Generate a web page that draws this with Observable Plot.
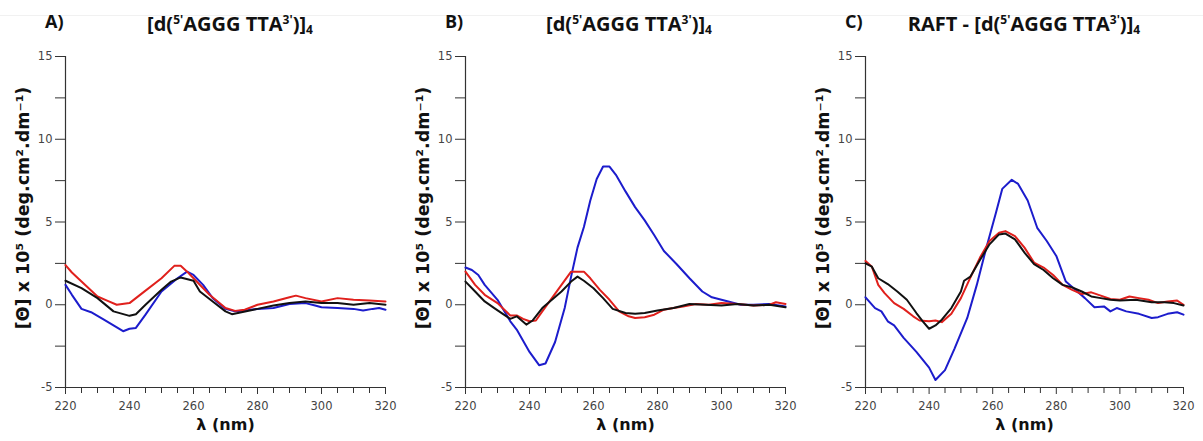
<!DOCTYPE html>
<html>
<head>
<meta charset="utf-8">
<script src="https://cdn.jsdelivr.net/npm/d3@7"></script>
<script src="https://cdn.jsdelivr.net/npm/@observablehq/plot@0.6"></script>
<style>
  html, body { margin: 0; padding: 0; background: #fff; }
  #wrap { position: relative; width: 1203px; height: 441px; overflow: hidden; }
  .panel { position: absolute; top: 0; }
  .letter { position: absolute; top: 9px; font: bold 18px "Open Sans", "Liberation Sans", sans-serif; color: #111; }
  .title { position: absolute; top: 13px; transform: translateX(-50%); white-space: nowrap;
           font: bold 20px "Open Sans", "Liberation Sans", sans-serif; color: #111; line-height: 22px; }
  .title sup { font-size: 12px; vertical-align: 7px; line-height: 0; }
  .title sub { font-size: 12px; vertical-align: -3px; line-height: 0; }
  .topline { position: absolute; left: 0; top: 15px; width: 1203px; height: 1px; background: #f1f1f1; }
</style>
</head>
<body>
<div id="wrap">
  <div class="topline"></div>
</div>
<script>
// ---- data (λ in nm, [Θ] x 10^5) ----
const panelLetters = ["A)", "B)", "C)"];
const panelTitlePrefix = ["", "", "RAFT - "];
const yTicks = [-5, 0, 5, 10, 15];
const yMinorTicks = [-2.5, 2.5, 7.5, 12.5];
const xTicks = [220, 240, 260, 280, 300, 320];
const xMinorTicks = [225, 230, 235, 245, 250, 255, 265, 270, 275, 285, 290, 295, 305, 310, 315];
const yLabel = "[Θ] x 10⁵ (deg.cm².dm⁻¹)";
const xLabel = "λ (nm)";

const A_blue = [[220,1.2],[222,0.6],[225,-0.25],[228,-0.45],[232,-0.9],[235,-1.25],[238,-1.6],[240,-1.45],[242,-1.4],[245,-0.6],[250,0.8],[255,1.6],[258,2.0],[260,1.8],[263,1.2],[266,0.4],[270,-0.25],[273,-0.4],[276,-0.35],[280,-0.25],[285,-0.2],[290,0.05],[295,0.1],[298,-0.05],[300,-0.15],[305,-0.2],[310,-0.25],[313,-0.35],[316,-0.25],[318,-0.2],[320,-0.3]];
const A_red = [[220,2.4],[222,1.95],[225,1.4],[230,0.5],[233,0.25],[236,0.0],[240,0.1],[244,0.7],[250,1.6],[254,2.35],[256,2.35],[258,2.0],[260,1.6],[265,0.6],[270,-0.2],[273,-0.37],[276,-0.3],[280,0.0],[285,0.2],[290,0.45],[292,0.55],[295,0.4],[300,0.2],[305,0.4],[310,0.3],[315,0.25],[320,0.2]];
const A_black = [[220,1.45],[225,1.0],[230,0.4],[235,-0.4],[240,-0.67],[242,-0.57],[245,0.0],[250,0.9],[253,1.4],[256,1.65],[260,1.45],[262,0.8],[266,0.2],[270,-0.4],[272,-0.57],[275,-0.45],[280,-0.25],[285,-0.05],[290,0.1],[295,0.2],[300,0.1],[305,0.1],[310,0.0],[315,0.1],[320,0.0]];

const B_blue = [[220,2.25],[222,2.1],[224,1.8],[226,1.2],[230,0.3],[234,-1.0],[236,-1.5],[240,-2.85],[243,-3.65],[245,-3.55],[248,-2.25],[251,-0.2],[253,1.7],[255,3.45],[257,4.7],[259,6.3],[261,7.6],[263,8.35],[265,8.35],[267,7.85],[270,6.85],[273,5.9],[276,5.1],[279,4.2],[282,3.25],[286,2.45],[290,1.6],[294,0.8],[297,0.45],[300,0.3],[303,0.15],[306,0.0],[310,0.0],[315,0.05],[320,-0.1]];
const B_red = [[220,2.0],[223,1.2],[226,0.6],[230,0.1],[234,-0.65],[236,-0.65],[238,-0.85],[240,-1.0],[242,-0.95],[244,-0.4],[247,0.4],[250,1.2],[253,2.0],[255,2.0],[257,2.0],[259,1.6],[262,0.9],[265,0.3],[268,-0.4],[271,-0.7],[273,-0.8],[276,-0.75],[279,-0.6],[282,-0.3],[285,-0.2],[288,-0.1],[292,0.05],[296,0.0],[300,0.1],[305,0.05],[310,-0.05],[315,0.0],[317,0.15],[320,0.05]];
const B_black = [[220,1.4],[223,0.8],[226,0.2],[229,-0.2],[232,-0.6],[234,-0.85],[236,-0.7],[239,-1.2],[241,-0.95],[244,-0.2],[247,0.3],[250,0.8],[253,1.4],[255,1.7],[257,1.45],[260,1.0],[263,0.4],[266,-0.25],[270,-0.5],[273,-0.55],[276,-0.5],[280,-0.35],[285,-0.2],[290,0.05],[295,0.0],[300,-0.05],[305,0.05],[310,-0.05],[315,0.0],[320,-0.15]];

const C_blue = [[220,0.45],[223,-0.2],[225,-0.4],[227,-1.0],[229,-1.25],[232,-2.0],[236,-2.85],[240,-3.8],[242,-4.55],[245,-3.95],[248,-2.65],[252,-0.8],[255,1.2],[258,3.45],[261,5.55],[263,7.0],[266,7.55],[268,7.3],[271,6.3],[274,4.65],[277,3.85],[280,2.95],[283,1.4],[286,0.9],[289,0.4],[292,-0.15],[295,-0.1],[297,-0.4],[299,-0.2],[302,-0.4],[306,-0.55],[310,-0.8],[312,-0.75],[315,-0.55],[318,-0.45],[320,-0.6]];
const C_red = [[220,2.65],[222,2.3],[224,1.2],[226,0.7],[229,0.1],[232,-0.25],[235,-0.7],[237,-0.95],[240,-1.0],[242,-0.95],[244,-1.05],[247,-0.55],[250,0.4],[253,1.65],[256,2.85],[259,3.85],[262,4.35],[264,4.45],[267,4.15],[270,3.45],[273,2.55],[276,2.25],[279,1.8],[282,1.2],[285,0.9],[288,0.65],[291,0.75],[294,0.55],[297,0.35],[300,0.3],[303,0.5],[306,0.4],[309,0.3],[312,0.1],[315,0.2],[318,0.25],[320,0.0]];
const C_black = [[220,2.5],[222,2.3],[224,1.6],[227,1.25],[230,0.8],[233,0.3],[236,-0.5],[238,-1.0],[240,-1.45],[242,-1.25],[244,-0.9],[247,-0.2],[250,0.8],[251,1.45],[253,1.7],[256,2.7],[259,3.65],[262,4.25],[264,4.3],[267,3.95],[270,3.15],[273,2.45],[276,2.1],[279,1.6],[282,1.2],[285,1.05],[288,0.8],[291,0.5],[294,0.4],[297,0.3],[300,0.25],[305,0.3],[310,0.15],[314,0.15],[317,0.1],[320,-0.05]];

const seriesColors = { blue: "#1c1ccc", red: "#e0201c", black: "#111111" };
const panels = [
  { blue: A_blue, red: A_red, black: A_black },
  { blue: B_blue, red: B_red, black: B_black },
  { blue: C_blue, red: C_red, black: C_black }
];

// ---- layout ----
const lefts = [0, 400, 800];
const widths = [400, 400, 403];
const marginRights = [15, 15, 20];
const centers = [230, 629, 1024];
const wrap = document.getElementById("wrap");

panels.forEach((p, i) => {
  const lineMarks = ["blue", "red", "black"].map(k =>
    Plot.line(p[k], { x: d => d[0], y: d => d[1], stroke: seriesColors[k], strokeWidth: 2, curve: "linear" })
  );
  const chart = Plot.plot({
    width: widths[i], height: 441,
    marginLeft: 65, marginRight: marginRights[i], marginTop: 56, marginBottom: 54,
    x: { domain: [220, 320] },
    y: { domain: [-5, 15] },
    style: { background: "transparent", fontFamily: "DejaVu Sans, Verdana, sans-serif", fontSize: "11.5px", color: "#444" },
    marks: [
      Plot.axisY({ ticks: yTicks, tickSize: 10, tickPadding: 3, tickFormat: d => String(d), label: null, stroke: "#333", fill: "#444" }),
      Plot.axisY({ ticks: yMinorTicks, tickSize: 10, tickFormat: () => "", label: null, stroke: "#333" }),
      Plot.axisX({ ticks: xTicks, tickSize: 7, tickPadding: 7, tickFormat: d => String(d), label: null, stroke: "#333", fill: "#444" }),
      Plot.axisX({ ticks: xMinorTicks, tickSize: 6, tickFormat: () => "", label: null, stroke: "#333" }),
      Plot.ruleX([220], { y1: -5, y2: 15, stroke: "#333", strokeWidth: 1.2 }),
      Plot.ruleY([-5], { x1: 220, x2: 320, stroke: "#333", strokeWidth: 1.2 }),
      ...lineMarks,
      Plot.text([yLabel], { text: d => d, frameAnchor: "left", textAnchor: "middle", dx: -42, dy: -14, rotate: -90,
        fontSize: 17.5, fontWeight: "bold", fill: "#111", fontFamily: "DejaVu Sans, Verdana, sans-serif" }),
      Plot.text([xLabel], { text: d => d, frameAnchor: "bottom", dy: 42,
        fontSize: 16, fontWeight: "bold", fill: "#111", fontFamily: "DejaVu Sans, Verdana, sans-serif" })
    ]
  });
  chart.classList.add("panel");
  chart.style.left = lefts[i] + "px";
  wrap.appendChild(chart);

  const letter = document.createElement("div");
  letter.className = "letter";
  letter.style.left = (lefts[i] + 45) + "px";
  letter.textContent = panelLetters[i];
  wrap.appendChild(letter);

  const title = document.createElement("div");
  title.className = "title";
  title.style.left = centers[i] + "px";
  title.innerHTML = panelTitlePrefix[i] + "[d(<sup>5'</sup>AGGG TTA<sup>3'</sup>)]<sub>4</sub>";
  wrap.appendChild(title);
});
</script>
</body>
</html>
